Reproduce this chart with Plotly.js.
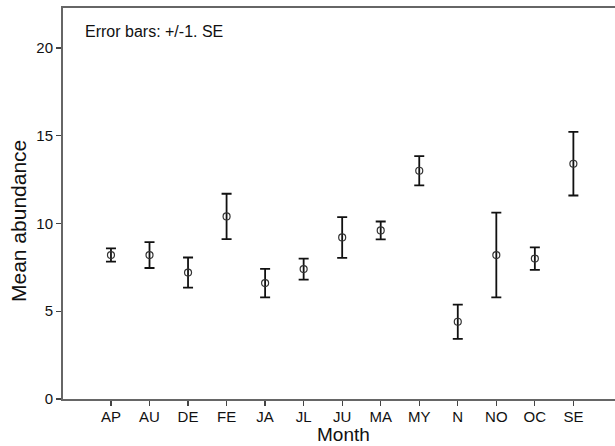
<!DOCTYPE html>
<html>
<head>
<meta charset="utf-8">
<script src="https://cdn.plot.ly/plotly-3.0.1.min.js"></script>
<style>html,body{margin:0;padding:0;background:#fff;}#chart{width:615px;height:446px;}</style>
</head>
<body>
<div id="chart"></div>
<script>
var months = ["AP","AU","DE","FE","JA","JL","JU","MA","MY","N","NO","OC","SE"];
var meanAbundance = [8.2, 8.2, 7.2, 10.4, 6.6, 7.4, 9.2, 9.6, 13.0, 4.4, 8.2, 8.0, 13.4];
var stdError = [0.38, 0.74, 0.86, 1.29, 0.81, 0.6, 1.16, 0.51, 0.83, 0.98, 2.41, 0.64, 1.81];
var yTicks = [0, 5, 10, 15, 20];

var FONT = "Liberation Sans, Arial, Helvetica, sans-serif";

var trace = {
  type: "scatter",
  mode: "markers",
  x: months,
  y: meanAbundance,
  marker: {symbol: "circle-open", size: 7, color: "#333", line: {width: 1.2, color: "#333"}},
  error_y: {type: "data", array: stdError, visible: true, color: "#111", thickness: 1.8, width: 5},
  hoverinfo: "x+y"
};

var layout = {
  width: 615, height: 446,
  margin: {l: 63, r: 0, t: 8, b: 47, pad: 0},
  paper_bgcolor: "#fff", plot_bgcolor: "#fff",
  showlegend: false,
  font: {family: FONT, color: "#111", size: 15},
  xaxis: {
    type: "category",
    categoryorder: "array", categoryarray: months,
    range: [-1.245, 13.08],
    showgrid: false, zeroline: false,
    showline: true, linecolor: "#666", linewidth: 2, mirror: true,
    ticks: "outside", ticklen: 5, tickwidth: 1.3, tickcolor: "#444",
    ticklabelstandoff: -2,
    tickfont: {size: 15, family: FONT, color: "#111"}
  },
  yaxis: {
    range: [0, 22.27],
    tickvals: yTicks, ticktext: yTicks.map(String),
    showgrid: false, zeroline: false,
    showline: true, linecolor: "#666", linewidth: 2,
    ticks: "outside", ticklen: 5, tickwidth: 1.3, tickcolor: "#444",
    tickfont: {size: 15, family: FONT, color: "#111"}
  },
  annotations: [
    {text: "Error bars: +/-1. SE", xref: "paper", yref: "paper", x: (82.5-63)/552, y: (399-31)/391,
     xanchor: "left", yanchor: "middle", showarrow: false, font: {size: 16, family: FONT, color: "#111"}},
    {text: "Mean abundance", xref: "paper", yref: "paper", x: (19-63)/552, y: (399-221)/391,
     xanchor: "center", yanchor: "middle", textangle: -90, showarrow: false, font: {size: 21, family: FONT, color: "#111"}},
    {text: "Month", xref: "paper", yref: "paper", x: (343-63)/552, y: (399-446)/391,
     xanchor: "center", yanchor: "bottom", showarrow: false, borderpad: 0, font: {size: 19, family: FONT, color: "#111"}}
  ]
};

Plotly.newPlot("chart", [trace], layout, {displayModeBar: false, staticPlot: true});
</script>
</body>
</html>
